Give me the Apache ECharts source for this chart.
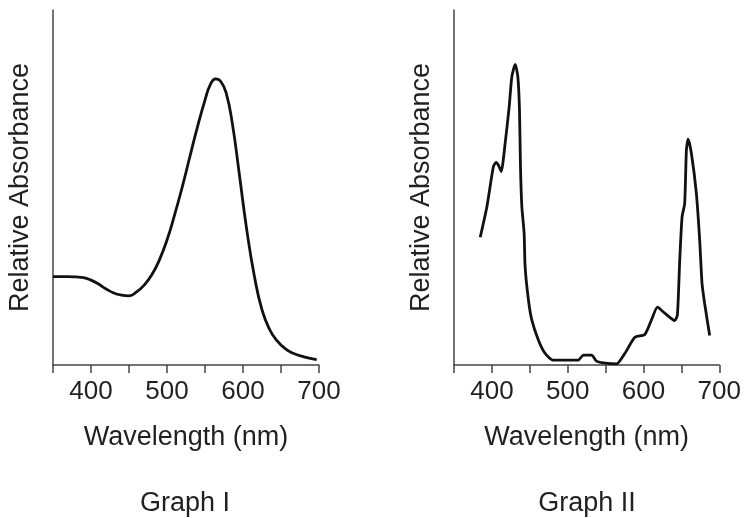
<!DOCTYPE html>
<html>
<head>
<meta charset="utf-8">
<script src="https://cdn.jsdelivr.net/npm/echarts@6/dist/echarts.min.js"></script>
<style>
  html, body { margin: 0; padding: 0; background: #fff; }
  #chart { width: 744px; height: 518px; }
</style>
</head>
<body>
<div id="chart"></div>
<script>
// Graph I
const wavelengthsI = [350, 360, 370, 380, 390, 400, 410, 420, 430, 440, 450, 460, 470, 480, 490, 500, 510, 520, 530, 540, 550, 557, 564, 571, 578, 586, 595, 605, 615, 625, 635, 645, 655, 665, 680, 697];
const absorbanceI = [24.9, 24.9, 24.9, 24.8, 24.6, 23.9, 22.8, 21.4, 20.3, 19.7, 19.5, 20.6, 22.5, 25.4, 29.6, 35.2, 42.3, 50.1, 58.6, 67.0, 74.6, 79.0, 80.6, 79.8, 76.5, 68.0, 54.0, 38.0, 25.0, 15.5, 10.0, 6.8, 4.7, 3.4, 2.3, 1.5];

// Graph II
const wavelengthsII = [384.6, 393.4, 402, 405.7, 408.6, 412.3, 417.5, 422.8, 426.3, 430.7, 434.2, 436.4, 437.7, 439.5, 442.5, 443.8, 448.2, 452.6, 461.4, 470.1, 480.3, 514, 520.6, 531.6, 538, 547, 564.5, 575.5, 588.6, 601.7, 610.5, 618.4, 628, 641.2, 644.7, 647.8, 650.9, 654.3, 656.6, 658.8, 663.2, 669.7, 674.1, 677.2, 680.6, 687.3];
const absorbanceII = [36.0, 44.6, 55.9, 57.1, 56.3, 54.5, 62.5, 72.8, 81.2, 84.7, 81.2, 71.8, 55.9, 44.6, 37.2, 27.7, 18.3, 12.7, 7.0, 3.3, 1.4, 1.4, 2.8, 2.8, 1.1, 0.6, 0.3, 3.3, 7.8, 8.6, 12.7, 16.3, 14.6, 12.5, 14.1, 29.6, 41.8, 45.5, 60.6, 63.6, 59.6, 48.4, 35.2, 23.0, 17.4, 8.3];

const tickLabels = [400, 500, 600, 700];

const font = 'Liberation Sans, Arial, sans-serif';
const textColor = '#231f20';
const axisColor = '#444';

function pairs(xs, ys) {
  return xs.map((x, i) => [x, ys[i]]);
}

function makeX(idx) {
  return {
    gridIndex: idx,
    type: 'value',
    min: 350,
    max: 700,
    interval: 50,
    name: 'Wavelength (nm)',
    nameLocation: 'middle',
    nameGap: 59,
    nameTextStyle: { fontFamily: font, fontSize: 27, color: textColor },
    axisLine: { show: true, lineStyle: { color: axisColor, width: 1.5 } },
    axisTick: { show: true, length: 8, lineStyle: { color: axisColor, width: 1.5 } },
    axisLabel: {
      margin: 14,
      fontFamily: font,
      fontSize: 26,
      color: textColor,
      showMinLabel: true,
      showMaxLabel: true,
      formatter: v => tickLabels.indexOf(v) >= 0 ? String(v) : ''
    },
    splitLine: { show: false }
  };
}

function makeY(idx) {
  return {
    gridIndex: idx,
    type: 'value',
    min: 0,
    max: 100,
    name: 'Relative Absorbance',
    nameLocation: 'middle',
    nameGap: 19,
    nameRotate: 90,
    nameTextStyle: { fontFamily: font, fontSize: 27, color: textColor },
    axisLine: { show: true, lineStyle: { color: axisColor, width: 1.5 } },
    axisTick: { show: false },
    axisLabel: { show: false },
    splitLine: { show: false }
  };
}

const chart = echarts.init(document.getElementById('chart'));
chart.setOption({
  animation: false,
  grid: [
    { left: 53, top: 10, width: 266, height: 355 },
    { left: 454, top: 10, width: 266, height: 355 }
  ],
  xAxis: [makeX(0), makeX(1)],
  yAxis: [makeY(0), makeY(1)],
  graphic: [
    { type: 'text', x: 185, y: 490, style: { text: 'Graph I', font: '27px ' + font, fill: textColor, textAlign: 'center' } },
    { type: 'text', x: 587, y: 490, style: { text: 'Graph II', font: '27px ' + font, fill: textColor, textAlign: 'center' } }
  ],
  series: [
    {
      type: 'line',
      xAxisIndex: 0,
      yAxisIndex: 0,
      data: pairs(wavelengthsI, absorbanceI),
      smooth: 0.5,
      symbol: 'none',
      lineStyle: { color: '#111', width: 2.8 }
    },
    {
      type: 'line',
      xAxisIndex: 1,
      yAxisIndex: 1,
      data: pairs(wavelengthsII, absorbanceII),
      smooth: 0.2,
      symbol: 'none',
      lineStyle: { color: '#111', width: 2.8 }
    }
  ]
});
</script>
</body>
</html>
